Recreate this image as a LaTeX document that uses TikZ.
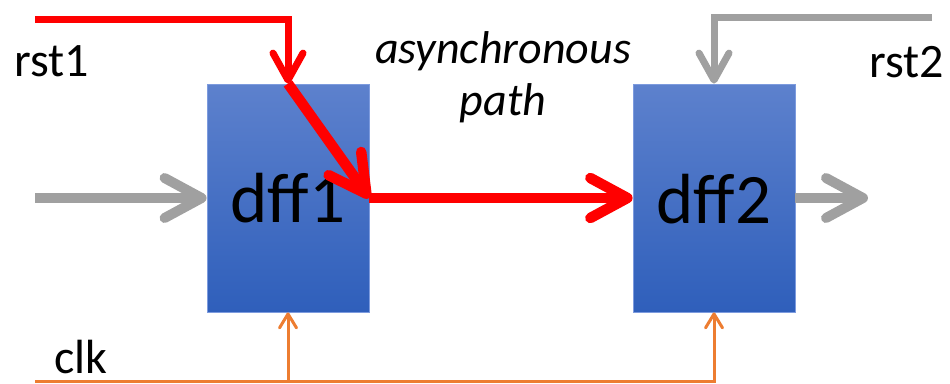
\documentclass[tikz,border=0pt]{standalone}
\usepackage{fontspec}
\setmainfont{Carlito}
\usetikzlibrary{arrows.meta}
\definecolor{boxtop}{RGB}{93,129,205}
\definecolor{boxbot}{RGB}{47,95,187}
\definecolor{boxedge}{RGB}{125,155,222}
\definecolor{sigred}{RGB}{255,0,0}
\definecolor{siggray}{RGB}{160,160,160}
\definecolor{clkorange}{RGB}{237,125,49}
\tikzset{
  ffbox/.style={rectangle, minimum width=162pt, minimum height=228pt,
    inner sep=0pt, top color=boxtop, bottom color=boxbot,
    draw=boxedge, line width=0.8pt},
  fflabel/.style={inner sep=0pt, anchor=base, font=\fontsize{71}{80}\selectfont},
  siglabel/.style={inner sep=0pt, font=\fontsize{48}{56}\selectfont},
  notelabel/.style={inner sep=0pt, anchor=base, font=\fontsize{46}{52}\selectfont\itshape},
  barbthin/.tip={Straight Barb[round, length=27pt, width=30pt]},
  barbthick/.tip={Straight Barb[round, length=37pt, width=40pt]},
  barbclk/.tip={Straight Barb[round, length=14pt, width=17pt]},
  rstred/.style={draw=sigred, line width=7pt, -barbthin},
  pathred/.style={draw=sigred, line width=10.5pt, -barbthick},
  datagray/.style={draw=siggray, line width=10pt, -barbthick},
  rstgray/.style={draw=siggray, line width=7pt, -barbthin},
  clkline/.style={draw=clkorange, line width=3pt},
}
\begin{document}
\begin{tikzpicture}[x=1pt, y=-1pt]
\useasboundingbox (0,0) rectangle (950,383);

% flip-flops
\node[ffbox] (dff1) at (288,198) {};
\node[ffbox] (dff2) at (714,198) {};
\node[fflabel] (dff1txt) at (288,222) {dff1};
\node[fflabel] (dff2txt) at (714,223) {dff2};

% free ends of the signals
\coordinate (rst1in) at (35,19);
\coordinate (rst2in) at (932,17);
\coordinate (datain) at (35,198);
\coordinate (dataout) at (868,198);
\coordinate (clkin) at (35,381);

% signal names
\node[siglabel, anchor=base west] (rst1lbl) at (14,76) {rst1};
\node[siglabel, anchor=base east] (rst2lbl) at (944,77) {rst2};
\node[siglabel, anchor=base west] (clklbl) at (54,373) {clk};
\node[notelabel] (asyn1) at (503,63) {asynchronous};
\node[notelabel] (asyn2) at (503,115) {path};

% clock tree
\draw[clkline, -barbclk] (clkin) -| (dff2.south);
\draw[clkline, -barbclk] (dff1.south |- clkin) -- (dff1.south);

% data path
\draw[datagray] (datain) -- (dff1.west);
\draw[datagray] (dff2.east) -- (dataout);

% resets
\draw[rstgray] (rst2in) -| (dff2.north);
\draw[rstred] (rst1in) -| (dff1.north);

% asynchronous path through dff1
\draw[pathred] (dff1.north) -- (dff1.east);
\draw[pathred] (dff1.east) -- (dff2.west);
\end{tikzpicture}
\end{document}
